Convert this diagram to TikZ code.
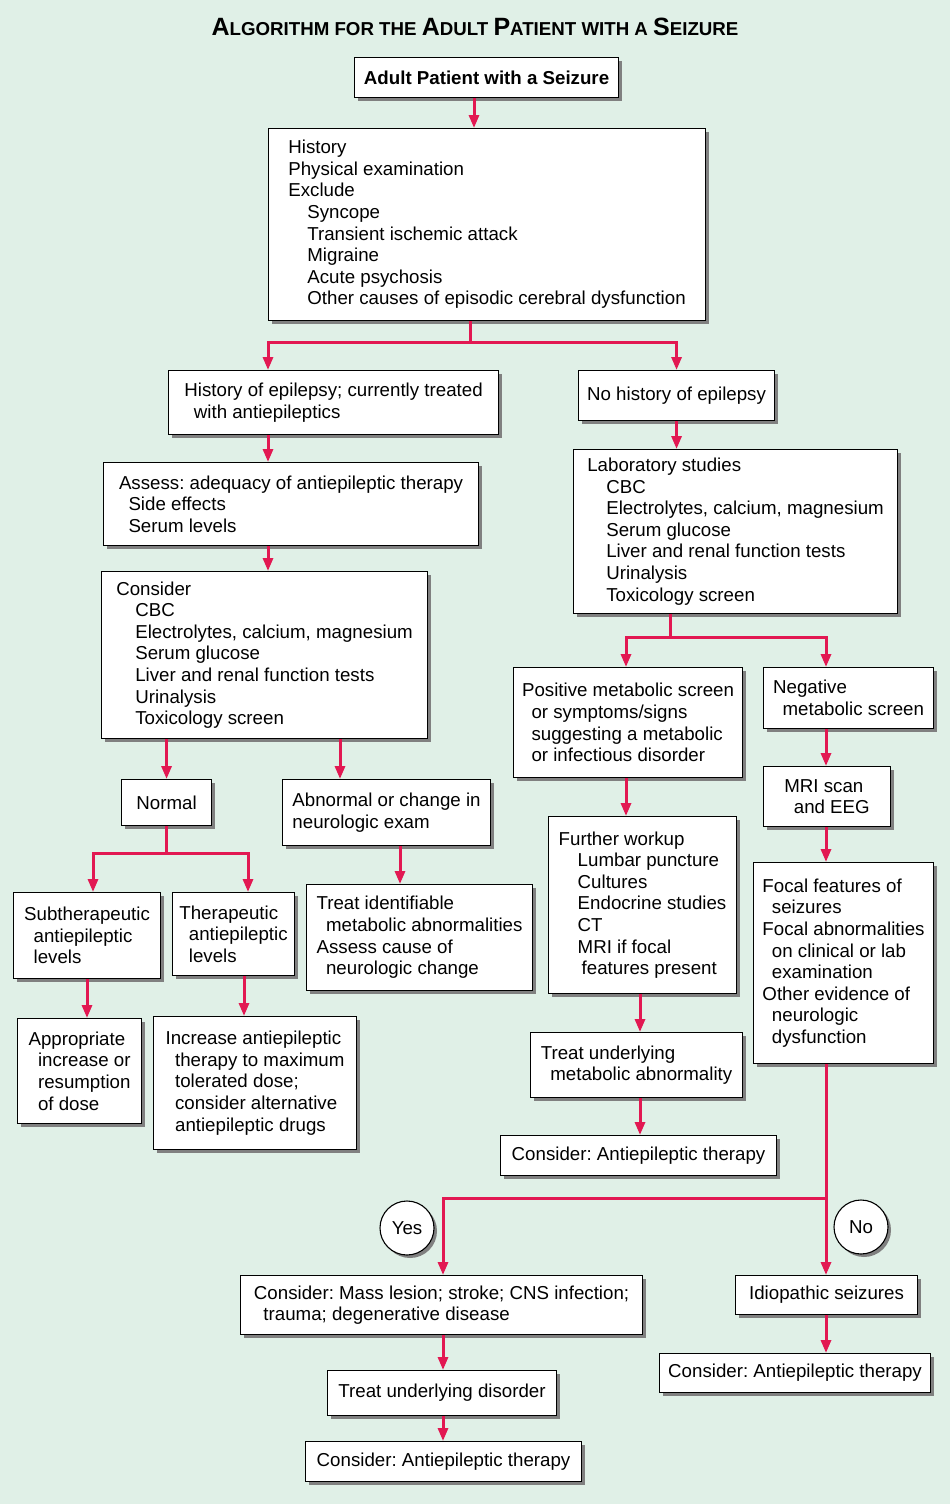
\documentclass[tikz,border=0pt]{standalone}
\usepackage{fontspec}
\setmainfont{Liberation Sans}
\usetikzlibrary{arrows.meta,shadows}
\definecolor{bgmint}{RGB}{224,240,231}
\definecolor{flowred}{RGB}{226,24,82}
\newcommand{\fs}{\fontsize{18.7}{21.6}\selectfont\frenchspacing}
\newcommand{\lv}{\hspace*{19pt}}
\newcommand{\hg}{\hspace*{9.5pt}}
\newcommand{\tcap}[1]{{\fontsize{25}{25}\selectfont #1}}
\tikzset{
  box/.style={draw, line width=1.1pt, fill=white, anchor=north west, align=left, inner sep=2pt,
    general shadow={fill=black!50, shadow xshift=3pt, shadow yshift=-3pt}},
  ans/.style={draw, circle, line width=1.1pt, fill=white, minimum size=54pt, inner sep=0pt,
    general shadow={fill=black!50, shadow xshift=3pt, shadow yshift=-3pt}},
  arr/.style={draw=flowred, line width=3pt, -{Triangle[length=13pt,width=10pt]}},
}
\begin{document}
\begin{tikzpicture}[x=1pt, y=-1pt, font=\fs]
		% 背景
		\path[use as bounding box, fill=bgmint] (0,0) rectangle (950,1504);
		
		% 标题
		\node[font=\bfseries\fontsize{18.7}{20}\selectfont] (title) at (475,27) {\tcap{A}LGORITHM FOR THE \tcap{A}DULT \tcap{P}ATIENT WITH A \tcap{S}EIZURE};
		
		% 顶部
		\node[box, minimum width=264, minimum height=40, align=center, font=\fs\bfseries] (start) at (354,57) {Adult Patient with a Seizure};
		\node[box, minimum width=437, minimum height=192] (hist) at (268,128) {History\\Physical examination\\Exclude\\\lv Syncope\\\lv Transient ischemic attack\\\lv Migraine\\\lv Acute psychosis\\\lv Other causes of episodic cerebral dysfunction};
		
		% 左侧分支：有癫痫史
		\node[box, minimum width=330, minimum height=64] (epi) at (168,370) {History of epilepsy; currently treated\\\hg with antiepileptics};
		\node[box, minimum width=375, minimum height=83] (assess) at (103,462) {Assess: adequacy of antiepileptic therapy\\\hg Side effects\\\hg Serum levels};
		\node[box, minimum width=326, minimum height=167] (consider) at (101,571) {Consider\\\lv CBC\\\lv Electrolytes, calcium, magnesium\\\lv Serum glucose\\\lv Liver and renal function tests\\\lv Urinalysis\\\lv Toxicology screen};
		\node[box, minimum width=90, minimum height=46, align=center] (normal) at (121,779) {Normal};
		\node[box, minimum width=208, minimum height=66] (abnormal) at (282,779) {Abnormal or change in\\neurologic exam};
		\node[box, minimum width=147, minimum height=86] (subther) at (13,892) {Subtherapeutic\\\hg antiepileptic\\\hg levels};
		\node[box, minimum width=122, minimum height=83] (ther) at (172,892) {Therapeutic\\\hg antiepileptic\\\hg levels};
		\node[box, minimum width=226, minimum height=106] (treatid) at (306,884) {Treat identifiable\\\hg metabolic abnormalities\\Assess cause of\\\hg neurologic change};
		\node[box, minimum width=124, minimum height=105] (approp) at (17,1018) {Appropriate\\\hg increase or\\\hg resumption\\\hg of dose};
		\node[box, minimum width=203, minimum height=133] (increase) at (153,1016) {Increase antiepileptic\\\hg therapy to maximum\\\hg tolerated dose;\\\hg consider alternative\\\hg antiepileptic drugs};
		
		% 右侧分支：无癫痫史
		\node[box, minimum width=196, minimum height=50] (noepi) at (578,370) {No history of epilepsy};
		\node[box, minimum width=324, minimum height=164] (lab) at (573,449) {Laboratory studies\\\lv CBC\\\lv Electrolytes, calcium, magnesium\\\lv Serum glucose\\\lv Liver and renal function tests\\\lv Urinalysis\\\lv Toxicology screen};
		\node[box, minimum width=229, minimum height=110] (pos) at (513,667) {Positive metabolic screen\\\hg or symptoms/signs\\\hg suggesting a metabolic\\\hg or infectious disorder};
		\node[box, minimum width=170, minimum height=61] (neg) at (763,667) {Negative\\\hg metabolic screen};
		\node[box, minimum width=127, minimum height=60] (mri) at (763,766) {MRI scan\\\hg and EEG};
		\node[box, minimum width=188, minimum height=177] (further) at (548,816) {Further workup\\\lv Lumbar puncture\\\lv Cultures\\\lv Endocrine studies\\\lv CT\\\lv MRI if focal\\\lv\hspace*{4pt}features present};
		\node[box, minimum width=180, minimum height=201] (focal) at (753,862) {Focal features of\\\hg seizures\\Focal abnormalities\\\hg on clinical or lab\\\hg examination\\Other evidence of\\\hg neurologic\\\hg dysfunction};
		\node[box, minimum width=212, minimum height=65] (treatmet) at (530,1032) {Treat underlying\\\hg metabolic abnormality};
		\node[box, minimum width=276, minimum height=40] (consA) at (500,1135) {Consider: Antiepileptic therapy};
		
		% 底部：是 / 否
		\node[ans] (yes) at (407,1228) {Yes};
		\node[ans] (no) at (861,1227) {No};
		\node[box, minimum width=402, minimum height=59] (mass) at (240,1275) {Consider: Mass lesion; stroke; CNS infection;\\\hg trauma; degenerative disease};
		\node[box, minimum width=229, minimum height=45] (treatund) at (327,1370) {Treat underlying disorder};
		\node[box, minimum width=276, minimum height=40] (consC) at (305,1441) {Consider: Antiepileptic therapy};
		\node[box, minimum width=182, minimum height=39, align=center] (idio) at (735,1275) {Idiopathic seizures};
		\node[box, minimum width=271, minimum height=39] (consB) at (659,1353) {Consider: Antiepileptic therapy};
		
		% 箭头
		\draw[arr] (start.south -| 474,0) -- (hist.north -| 474,0);
		\draw[arr] (hist.south -| 470,0) -- ++(0,21) -| (epi.north -| 268,0);
		\draw[arr] (hist.south -| 470,0) -- ++(0,21) -| (noepi.north);
		\draw[arr] (epi.south -| 268,0) -- (assess.north -| 268,0);
		\draw[arr] (assess.south -| 268,0) -- (consider.north -| 268,0);
		\draw[arr] (consider.south -| normal.north) -- (normal.north);
		\draw[arr] (consider.south -| 340,0) -- (abnormal.north -| 340,0);
		\draw[arr] (normal.south) -- ++(0,27) -| (subther.north -| 93,0);
		\draw[arr] (normal.south) -- ++(0,27) -| (ther.north -| 248,0);
		\draw[arr] (abnormal.south -| 400,0) -- (treatid.north -| 400,0);
		\draw[arr] (subther.south -| 87,0) -- (approp.north -| 87,0);
		\draw[arr] (ther.south -| 244,0) -- (increase.north -| 244,0);
		
		\draw[arr] (noepi.south) -- (lab.north -| noepi.south);
		\draw[arr] (lab.south -| 670,0) -- ++(0,23) -| (pos.north -| 626,0);
		\draw[arr] (lab.south -| 670,0) -- ++(0,23) -| (neg.north -| 826,0);
		\draw[arr] (pos.south -| 626,0) -- (further.north -| 626,0);
		\draw[arr] (neg.south -| 826,0) -- (mri.north -| 826,0);
		\draw[arr] (mri.south -| 826,0) -- (focal.north -| 826,0);
		\draw[arr] (further.south -| 640,0) -- (treatmet.north -| 640,0);
		\draw[arr] (treatmet.south -| 640,0) -- (consA.north -| 640,0);
		
		\draw[arr] (focal.south -| 826,0) -- ++(0,134) -| (mass.north -| 443,0);
		\draw[arr] (focal.south -| 826,0) -- (idio.north -| 826,0);
		\draw[arr] (mass.south -| 443,0) -- (treatund.north -| 443,0);
		\draw[arr] (treatund.south -| 443,0) -- (consC.north -| 443,0);
		\draw[arr] (idio.south -| 826,0) -- (consB.north -| 826,0);
	\end{tikzpicture}
\end{document}
